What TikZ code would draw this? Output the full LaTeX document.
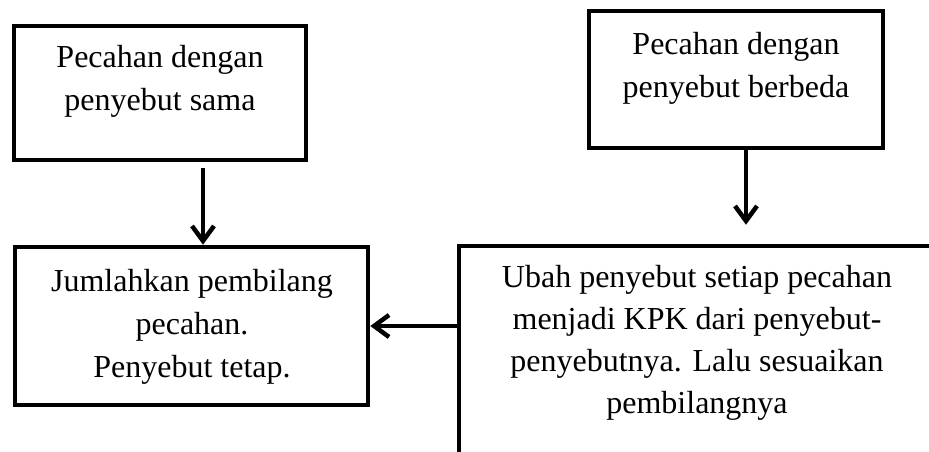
\documentclass[tikz,border=0pt]{standalone}
\usepackage{fontspec}
\setmainfont{Liberation Serif}
\usetikzlibrary{arrows.meta}
\tikzset{
  box/.style={draw=black, line width=4.5pt, rectangle, inner sep=0pt, fill=white},
  txt/.style={align=center, inner sep=0pt, font=\fontsize{32}{43}\selectfont},
  arr/.style={draw=black, line width=4.5pt, -{Straight Barb[length=15pt,width=22pt]}}
}
\begin{document}
\begin{tikzpicture}[x=1pt,y=-1pt]
\useasboundingbox (0,0) rectangle (929,452);
\clip (0,0) rectangle (929,452);
% boxes
\node[box, minimum width=292pt, minimum height=134pt] (b1) at (160,93) {};
\node[box, minimum width=294pt, minimum height=137pt] (b2) at (736,79.5) {};
\node[box, minimum width=353pt, minimum height=158pt] (b3) at (191.5,326) {};
\node[box, minimum width=478pt, minimum height=254pt] (b4) at (698,373) {};
% texts
\node[txt] (t1) at (160,81.5) {Pecahan dengan\\penyebut sama};
\node[txt] (t2) at (736,68) {Pecahan dengan\\penyebut berbeda};
\node[txt] (t3) at (192,326.5) {Jumlahkan pembilang\\pecahan.\\Penyebut tetap.};
\node[txt, font=\fontsize{32}{42}\selectfont] (t4) at (697,342.5) {Ubah penyebut setiap pecahan\\menjadi KPK dari penyebut-\\penyebutnya. Lalu sesuaikan\\pembilangnya};
% connectors
\draw[arr, shorten <=6pt] ([xshift=43pt]b1.south) -- ([xshift=43pt]b1.south |- b3.north);
\draw[arr, shorten >=19pt] ([xshift=10pt]b2.south) -- ([xshift=10pt]b2.south |- b4.north);
\draw[arr] (b4.west |- b3.east) -- (b3.east);
\end{tikzpicture}
\end{document}
